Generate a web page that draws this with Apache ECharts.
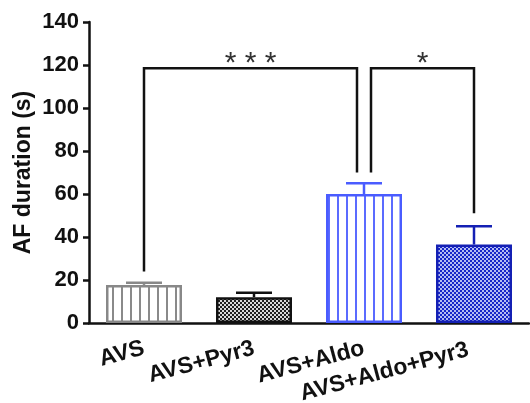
<!DOCTYPE html>
<html>
    <head>
        <meta charset="utf-8">
    </head>
    <body style="margin:0">
        <div id="main" style="width:530px;height:403px"></div>
        <script src="https://cdnjs.cloudflare.com/ajax/libs/echarts/6.0.0/echarts.min.js"></script>
        <script type="text/javascript">
            var categories = ['AVS', 'AVS+Pyr3', 'AVS+Aldo', 'AVS+Aldo+Pyr3'];
            var means = [17.7, 12, 60, 36.5];
            var errors = [1, 2.1, 5, 8.5];
            // significance brackets: from/to category, leg bottoms, top level, text
            var brackets = [
                {from: 0, to: 2, fromY: 24, toY: 70, top: 118.5, text: '* * *'},
                {from: 2, to: 3, fromY: 70, toY: 51, top: 118.5, text: '*'}
            ];

            var font = 'Liberation Sans, Arial, sans-serif';

            function stripes(color) {
                var c = document.createElement('canvas');
                c.width = 9; c.height = 4;
                var ctx = c.getContext('2d');
                ctx.fillStyle = '#fff';
                ctx.fillRect(0, 0, 9, 4);
                ctx.fillStyle = color;
                ctx.fillRect(4, 0, 2, 4);
                return {image: c, repeat: 'repeat'};
            }

            function checker(dark, light) {
                var c = document.createElement('canvas');
                c.width = 4; c.height = 4;
                var ctx = c.getContext('2d');
                ctx.fillStyle = dark;
                ctx.fillRect(0, 0, 4, 4);
                ctx.fillStyle = light;
                ctx.fillRect(0, 0, 2, 2);
                ctx.fillRect(2, 2, 2, 2);
                return {image: c, repeat: 'repeat'};
            }

            var styles = [
                {color: stripes('#8a8a8a'), borderColor: '#888888'},
                {color: checker('#1e1e1e', '#d8d8d8'), borderColor: '#111111'},
                {color: stripes('#5b6bff'), borderColor: '#4a5cff'},
                {color: checker('#1626c8', '#b4bcf2'), borderColor: '#1420b4'}
            ];

            var barData = means.map(function (v, i) {
                return {value: v, itemStyle: {color: styles[i].color, borderColor: styles[i].borderColor, borderWidth: 2.5}};
            });
            var errData = means.map(function (v, i) { return [i, v, v + errors[i]]; });

            var legShift = function (cat, side) {
                // legs meeting on the same bar are pushed apart
                return cat === 2 ? side * 7 : 0;
            };

            var option = {
                animation: false,
                grid: {left: 89, right: 1, top: 22, bottom: 80, outerBoundsMode: 'none'},
                xAxis: {
                    type: 'category',
                    data: categories.map(function (c, i) {
                        // the last label sits a little lower in the original
                        return i === 3 ? {value: c, textStyle: {padding: [14, 6, 0, 0]}} : c;
                    }),
                    axisLine: {lineStyle: {color: '#111', width: 2.5}},
                    axisTick: {alignWithLabel: true, length: 6, lineStyle: {color: '#111', width: 2.5}},
                    axisLabel: {
                        interval: 0, rotate: 15, margin: 25,
                        fontFamily: font, fontWeight: 'bold', fontSize: 23, color: '#111'
                    }
                },
                yAxis: {
                    type: 'value', min: 0, max: 140, interval: 20,
                    name: 'AF duration (s)', nameLocation: 'middle', nameGap: 54, nameMoveOverlap: false,
                    nameTextStyle: {fontFamily: font, fontWeight: 'bold', fontSize: 23, color: '#111'},
                    axisLine: {show: true, lineStyle: {color: '#111', width: 2.5}},
                    axisTick: {show: true, length: 6, lineStyle: {color: '#111', width: 2.5}},
                    splitLine: {show: false},
                    axisLabel: {fontFamily: font, fontWeight: 'bold', fontSize: 22, color: '#111', margin: 10}
                },
                series: [
                    {
                        type: 'bar', data: barData, barWidth: 76
                    },
                    {
                        type: 'custom', data: errData, z: 1,
                        renderItem: function (params, api) {
                            var i = api.value(0);
                            var top = api.coord([i, api.value(2)]);
                            var bot = api.coord([i, api.value(1)]);
                            var col = styles[i].borderColor;
                            var st = {stroke: col, lineWidth: 2.5};
                            return {
                                type: 'group', children: [
                                    {type: 'line', shape: {x1: top[0], y1: top[1], x2: bot[0], y2: bot[1]}, style: st},
                                    {type: 'line', shape: {x1: top[0] - 18, y1: top[1], x2: top[0] + 18, y2: top[1]}, style: st}
                                ]
                            };
                        }
                    },
                    {
                        type: 'custom', data: brackets.map(function (b) { return [b.from, b.to, b.fromY, b.toY, b.top]; }), z: 3,
                        renderItem: function (params, api) {
                            var b = brackets[params.dataIndex];
                            var p1 = api.coord([b.from, b.fromY]);
                            var p2 = api.coord([b.from, b.top]);
                            var p3 = api.coord([b.to, b.top]);
                            var p4 = api.coord([b.to, b.toY]);
                            var x1 = p1[0] + legShift(b.from, 1);
                            var x2 = p3[0] + legShift(b.to, -1);
                            return {
                                type: 'group', children: [
                                    {type: 'polyline', shape: {points: [[x1, p1[1]], [x1, p2[1]], [x2, p3[1]], [x2, p4[1]]]},
                                        style: {stroke: '#111', lineWidth: 2.5, fill: null}},
                                    {type: 'text', style: {x: (x1 + x2) / 2, y: p2[1] + 11, text: b.text, align: 'center', verticalAlign: 'bottom',
                                        fill: '#333', font: '30px ' + font}}
                                ]
                            };
                        }
                    }
                ]
            };
            var chart = echarts.init(document.getElementById('main'));
            chart.setOption(option);
        </script>
    </body>
</html>
